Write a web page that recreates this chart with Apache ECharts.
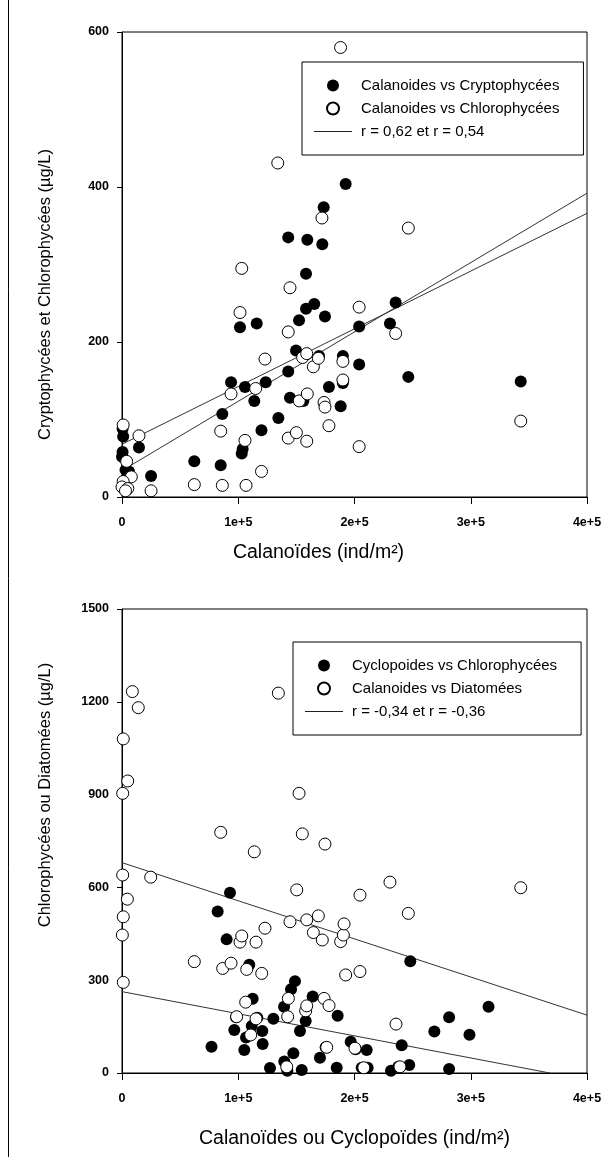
<!DOCTYPE html>
<html>
<head>
<meta charset="utf-8">
<script src="https://cdn.jsdelivr.net/npm/echarts@6/dist/echarts.min.js"></script>
<style>
  html, body { margin: 0; padding: 0; background: #fff; }
  #chart { width: 611px; height: 1157px; }
</style>
</head>
<body>
<div id="chart"></div>
<script>
// Tick labels shared by both x axes (0 .. 4e+5 ind/m2)
const xTickLabels = ['0', '1e+5', '2e+5', '3e+5', '4e+5'];
// Tick labels of the two y axes (ug/L)
const yTickLabelsTop = ['0', '200', '400', '600'];
const yTickLabelsBottom = ['0', '300', '600', '900', '1200', '1500'];

// Upper panel: Calanoids (ind/m2) vs Cryptophyceae biomass (ug/L)
const calCrypto = [
  [500, 88], [1000, 78], [500, 58], [0, 52], [3000, 35], [6000, 33],
  [14600, 64], [25000, 27], [62200, 46], [84900, 41], [86300, 107], [93800, 148],
  [101500, 219], [103800, 62], [103000, 56], [105800, 142], [113800, 124], [115900, 224],
  [120000, 86], [123600, 148], [134500, 102], [143000, 335], [143000, 162], [144500, 128],
  [149700, 189], [152300, 228], [156000, 124], [158300, 288], [158300, 243], [159400, 332],
  [165400, 249], [169500, 182], [172300, 326], [173500, 374], [174600, 233], [178000, 142],
  [188100, 117], [190000, 182], [190000, 147], [192400, 404], [204000, 220], [204000, 171],
  [230500, 224], [235400, 251], [246300, 155], [343000, 149]
];

// Upper panel: Calanoids (ind/m2) vs Chlorophyceae biomass (ug/L)
const calChloro = [
  [1000, 93], [4000, 46], [8000, 26], [1000, 20], [0, 13], [5000, 11], [3000, 8],
  [14600, 79], [25000, 8], [62200, 16], [84900, 85], [86300, 15], [93800, 133],
  [101500, 238], [103000, 295], [105800, 73], [106700, 15], [115000, 140], [120000, 33],
  [123000, 178], [134000, 431], [143000, 213], [143000, 76], [144500, 270], [150000, 83],
  [152500, 124], [155400, 180], [158900, 185], [158900, 72], [159400, 133], [164600, 168],
  [168900, 179], [172000, 360], [173800, 122], [174600, 116], [178000, 92], [188000, 580],
  [190000, 175], [190000, 151], [204000, 245], [204000, 65], [235400, 211], [246300, 347],
  [343000, 98]
];

// Upper panel regression lines (end points)
const fitCalCrypto = [[0, 34], [400000, 392]];
const fitCalChloro = [[0, 68], [400000, 366]];

// Lower panel: Cyclopoids (ind/m2) vs Chlorophyceae biomass (ug/L)
const cycChloro = [
  [77000, 85], [82300, 522], [90000, 432], [92900, 583], [96600, 139], [98100, 180],
  [105200, 74], [106700, 115], [109500, 350], [111600, 152], [112400, 240], [116400, 179],
  [120700, 136], [121000, 94], [127300, 16], [130200, 175], [139400, 214], [139600, 37],
  [142200, 7], [145400, 271], [147400, 64], [148800, 297], [153100, 136], [154600, 10],
  [158000, 168], [164000, 247], [170300, 49], [175200, 83], [184700, 17], [185500, 185],
  [196700, 101], [201000, 77], [206200, 17], [210500, 74], [211300, 17], [231400, 7],
  [237700, 20], [240600, 90], [247100, 26], [248000, 361], [268700, 134], [281400, 180],
  [281400, 13], [298900, 124], [315300, 214]
];

// Lower panel: Calanoids (ind/m2) vs Diatom biomass (ug/L)
const calDiatom = [
  [300, 446], [600, 640], [600, 904], [1100, 1080], [1100, 505], [1100, 293],
  [4600, 562], [4900, 944], [8900, 1233], [14000, 1181], [24700, 633], [62200, 360],
  [84900, 778], [86600, 338], [93800, 355], [98600, 182], [101500, 423], [103000, 443],
  [106400, 229], [107300, 335], [110700, 123], [113800, 715], [115300, 423], [115300, 175],
  [120200, 322], [123000, 468], [134500, 1228], [141700, 20], [142500, 182], [143100, 241],
  [144500, 489], [150300, 592], [152300, 904], [155100, 773], [158000, 201], [158900, 217],
  [158900, 495], [164600, 454], [168900, 508], [172300, 430], [173800, 241], [174600, 740],
  [176100, 83], [178100, 218], [188100, 425], [190400, 446], [191000, 482], [192400, 317],
  [200400, 80], [204700, 575], [204700, 328], [208000, 17], [230500, 617], [235700, 158],
  [239100, 20], [246300, 516], [343000, 599]
];

// Lower panel regression lines (end points)
const fitCycChloro = [[0, 263], [368000, 0]];
const fitCalDiatom = [[0, 680], [400000, 187]];

const FONT = '"Liberation Sans", Arial, sans-serif';

// Legend key for the regression lines: a 1px bar across a 38x12 box
// (the two hair-sized corner squares only fix the bounding box)
const LINE_KEY = 'path://M0,0h0.01v0.01h-0.01z M0,5.5h38v1h-38z M37.99,11.99h0.01v0.01h-0.01z';

function xAxisCfg(gridIndex, name, nameGap, namePadding) {
  return {
    gridIndex: gridIndex, type: 'value', min: 0, max: 400000, interval: 100000,
    name: name, nameLocation: 'middle', nameGap: nameGap,
    nameTextStyle: { fontFamily: FONT, fontSize: 19.5, color: '#000', padding: namePadding },
    axisLine: { show: true, onZero: false, lineStyle: { color: '#000', width: 1 } },
    axisTick: { show: true, length: 7, lineStyle: { color: '#000', width: 1 } },
    axisLabel: {
      margin: 19, fontFamily: FONT, fontWeight: 'bold', fontSize: 12.5, color: '#000',
      formatter: function (v) { return xTickLabels[Math.round(v / 100000)]; }
    },
    splitLine: { show: false }
  };
}

function yAxisCfg(gridIndex, name, max, interval, labels, namePadding) {
  return {
    gridIndex: gridIndex, type: 'value', min: 0, max: max, interval: interval,
    name: name, nameLocation: 'middle', nameGap: 68, nameRotate: 90,
    nameTextStyle: { fontFamily: FONT, fontSize: 16.5, color: '#000', padding: namePadding },
    axisLine: { show: true, onZero: false, lineStyle: { color: '#000', width: 1 } },
    axisTick: { show: true, length: 5, lineStyle: { color: '#000', width: 1 } },
    axisLabel: {
      margin: 13, fontFamily: FONT, fontWeight: 'bold', fontSize: 12.5, color: '#000',
      formatter: function (v) { return labels[Math.round(v / interval)]; }
    },
    splitLine: { show: false }
  };
}

function legendCfg(left, top, items) {
  return {
    left: left, top: top, orient: 'vertical',
    itemWidth: 38, itemHeight: 12, itemGap: 8,
    padding: [16, 24, 16, 12],
    borderColor: '#000', borderWidth: 1, backgroundColor: '#fff',
    selectedMode: false,
    data: items,
    textStyle: { fontFamily: FONT, fontSize: 15, color: '#000', lineHeight: 12, padding: [0, 0, 0, 4] }
  };
}

function lineKey(name) {
  return { name: name, icon: LINE_KEY, itemStyle: { color: '#222', borderWidth: 0 } };
}

const filledStyle = { color: '#000', opacity: 1 };
const openStyle = { color: '#fff', borderColor: '#000', borderWidth: 1, opacity: 1 };
const fitLine = { color: '#333', width: 1 };
const fitItem = { color: '#333' };

const chart = echarts.init(document.getElementById('chart'), null, { renderer: 'canvas' });
chart.setOption({
  animation: false,
  backgroundColor: '#fff',
  grid: [
    { left: 122, top: 32, right: 24, bottom: 660, show: true, borderColor: '#000', borderWidth: 1, backgroundColor: 'transparent' },
    { left: 122, top: 609, right: 24, bottom: 84, show: true, borderColor: '#000', borderWidth: 1, backgroundColor: 'transparent' }
  ],
  xAxis: [
    xAxisCfg(0, 'Calanoïdes (ind/m²)', 46, [0, 72, 0, 0]),
    xAxisCfg(1, 'Calanoïdes ou Cyclopoïdes (ind/m²)', 56, [0, 0, 0, 0])
  ],
  yAxis: [
    yAxisCfg(0, 'Cryptophycées et Chlorophycées (µg/L)', 600, 200, yTickLabelsTop, [0, 60, 0, 0]),
    yAxisCfg(1, 'Chlorophycées ou Diatomées (µg/L)', 1500, 300, yTickLabelsBottom, [0, 0, 0, 92])
  ],
  legend: [
    legendCfg(302, 62, [
      'Calanoides vs Cryptophycées',
      'Calanoides vs Chlorophycées',
      lineKey('r = 0,62 et r = 0,54')
    ]),
    legendCfg(293, 642, [
      'Cyclopoides vs Chlorophycées',
      'Calanoides vs Diatomées',
      lineKey('r = -0,34 et r = -0,36')
    ])
  ],
  graphic: [
    { type: 'line', shape: { x1: 8.5, y1: 0, x2: 8.5, y2: 1157 }, style: { stroke: '#000', lineWidth: 1 }, silent: true }
  ],
  series: [
    { name: 'r = 0,62 et r = 0,54', type: 'line', xAxisIndex: 0, yAxisIndex: 0, data: fitCalCrypto, symbol: 'none', lineStyle: fitLine, itemStyle: fitItem, z: 1, silent: true },
    { name: 'r = 0,62 et r = 0,54', type: 'line', xAxisIndex: 0, yAxisIndex: 0, data: fitCalChloro, symbol: 'none', lineStyle: fitLine, itemStyle: fitItem, z: 1, silent: true },
    { name: 'Calanoides vs Cryptophycées', type: 'scatter', xAxisIndex: 0, yAxisIndex: 0, data: calCrypto, symbol: 'circle', symbolSize: 12, itemStyle: filledStyle, z: 2 },
    { name: 'Calanoides vs Chlorophycées', type: 'scatter', xAxisIndex: 0, yAxisIndex: 0, data: calChloro, symbol: 'circle', symbolSize: 12, itemStyle: openStyle, z: 3 },

    { name: 'r = -0,34 et r = -0,36', type: 'line', xAxisIndex: 1, yAxisIndex: 1, data: fitCycChloro, symbol: 'none', lineStyle: fitLine, itemStyle: fitItem, z: 1, silent: true },
    { name: 'r = -0,34 et r = -0,36', type: 'line', xAxisIndex: 1, yAxisIndex: 1, data: fitCalDiatom, symbol: 'none', lineStyle: fitLine, itemStyle: fitItem, z: 1, silent: true },
    { name: 'Cyclopoides vs Chlorophycées', type: 'scatter', xAxisIndex: 1, yAxisIndex: 1, data: cycChloro, symbol: 'circle', symbolSize: 12, itemStyle: filledStyle, z: 2 },
    { name: 'Calanoides vs Diatomées', type: 'scatter', xAxisIndex: 1, yAxisIndex: 1, data: calDiatom, symbol: 'circle', symbolSize: 12, itemStyle: openStyle, z: 3 }
  ]
});
</script>
</body>
</html>
